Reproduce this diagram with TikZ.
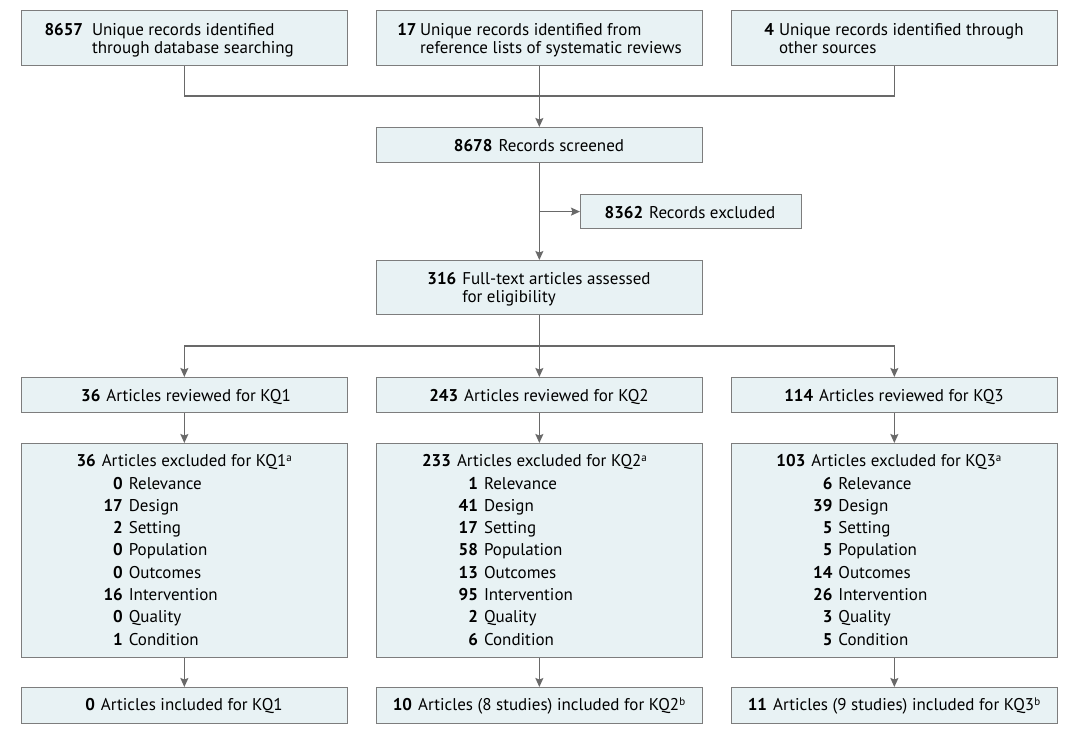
\documentclass[tikz,border=0pt]{standalone}
\usepackage{fontspec}
\setmainfont{PT Sans}
\usetikzlibrary{arrows.meta}
\definecolor{boxfill}{RGB}{232,242,244}
\definecolor{boxline}{RGB}{125,125,125}
\definecolor{connc}{RGB}{105,105,105}
\newcommand{\nm}[1]{\llap{\textbf{#1}\hspace{6pt}}}
\newcommand{\supl}[1]{\raisebox{5.5pt}{\fontsize{11}{11}\selectfont #1}}
\newcommand{\hd}[3]{\begin{tabular}[t]{@{}l@{\hspace{#1}}l@{}}\textbf{#2} & #3\end{tabular}}
\begin{document}
\begin{tikzpicture}[x=1pt,y=-1pt,
  box/.style={draw=boxline, fill=boxfill, line width=1.2pt, inner sep=0pt, anchor=north west, minimum width=325.5pt},
  txt/.style={inner sep=0pt, font=\fontsize{17}{18.3}\selectfont, text=black},
  lst/.style={inner sep=0pt, font=\fontsize{17}{22.3}\selectfont, text=black},
  conn/.style={draw=connc, line width=1.3pt},
  arr/.style={conn, -{Stealth[length=9pt,width=8pt,inset=1.5pt]}}]
\useasboundingbox[fill=white] (0,0) rectangle (1072,736);

% boxes
\node[box, minimum height=55pt] (b1) at (21,10) {};
\node[box, minimum height=55pt] (b2) at (376,10) {};
\node[box, minimum height=55pt] (b3) at (731,10) {};
\node[box, minimum height=35pt] (b4) at (376,127) {};
\node[box, minimum height=34pt, minimum width=220.5pt] (b5) at (580,194) {};
\node[box, minimum height=54pt] (b6) at (376,260) {};
\node[box, minimum height=35pt] (r1) at (21,377) {};
\node[box, minimum height=35pt] (r2) at (376,377) {};
\node[box, minimum height=35pt] (r3) at (731,377) {};
\node[box, minimum height=213.5pt] (x1) at (21,443) {};
\node[box, minimum height=213.5pt] (x2) at (376,443) {};
\node[box, minimum height=213.5pt] (x3) at (731,443) {};
\node[box, minimum height=35.5pt] (f1) at (21,687) {};
\node[box, minimum height=35.5pt] (f2) at (376,687) {};
\node[box, minimum height=35.5pt] (f3) at (731,687) {};

% texts
\node[txt, anchor=base west] (t1) at (44.3,35) {\hd{9pt}{8657}{Unique records identified\\ & through database searching}};
\node[txt, anchor=base] (t2) at (539.5,35) {\hd{3.5pt}{17}{Unique records identified from\\ & reference lists of systematic reviews}};
\node[txt, anchor=base] (t3) at (894,35) {\hd{5pt}{4}{Unique records identified through\\ & other sources}};
\node[txt, anchor=base] (t4) at (539,151.7) {\textbf{8678}\hspace{6pt}Records screened};
\node[txt, anchor=base] (t5) at (690,218.3) {\textbf{8362}\hspace{6pt}Records excluded};
\node[txt, anchor=base] (t6) at (539,284) {\hd{6pt}{316}{Full-text articles assessed\\ & for eligibility}};
\node[txt, anchor=base] (tr1) at (186,401.8) {\textbf{36}\hspace{6pt}Articles reviewed for KQ1};
\node[txt, anchor=base] (tr2) at (539,401.8) {\textbf{243}\hspace{6pt}Articles reviewed for KQ2};
\node[txt, anchor=base] (tr3) at (894,401.8) {\textbf{114}\hspace{6pt}Articles reviewed for KQ3};

\node[lst, anchor=base west] (l1) at (128.6,466.7) {\begin{tabular}[t]{@{}l@{}}
\hspace*{-27pt}\nm{36}Articles excluded for KQ1\supl{a}\\
\nm{0}Relevance\\ \nm{17}Design\\ \nm{2}Setting\\ \nm{0}Population\\
\nm{0}Outcomes\\ \nm{16}Intervention\\ \nm{0}Quality\\ \nm{1}Condition
\end{tabular}};
\node[lst, anchor=base west] (l2) at (483.8,466.7) {\begin{tabular}[t]{@{}l@{}}
\hspace*{-27pt}\nm{233}Articles excluded for KQ2\supl{a}\\
\nm{1}Relevance\\ \nm{41}Design\\ \nm{17}Setting\\ \nm{58}Population\\
\nm{13}Outcomes\\ \nm{95}Intervention\\ \nm{2}Quality\\ \nm{6}Condition
\end{tabular}};
\node[lst, anchor=base west] (l3) at (838.2,466.7) {\begin{tabular}[t]{@{}l@{}}
\hspace*{-27pt}\nm{103}Articles excluded for KQ3\supl{a}\\
\nm{6}Relevance\\ \nm{39}Design\\ \nm{5}Setting\\ \nm{5}Population\\
\nm{14}Outcomes\\ \nm{26}Intervention\\ \nm{3}Quality\\ \nm{5}Condition
\end{tabular}};

\node[txt, anchor=base] (tf1) at (184,710.5) {\textbf{0}\hspace{6pt}Articles included for KQ1};
\node[txt, anchor=base] (tf2) at (539,710.5) {\textbf{10}\hspace{6pt}Articles (8 studies) included for KQ2\supl{b}};
\node[txt, anchor=base] (tf3) at (894,710.5) {\textbf{11}\hspace{6pt}Articles (9 studies) included for KQ3\supl{b}};

% connectors
\coordinate (j1) at (b2.south |- 0,96);
\coordinate (j2) at (b6.south |- 0,346);
\draw[conn] (b1.south) |- (j1) -| (b3.south);
\draw[arr] (b2.south) -- (b4.north);
\draw[arr] (b4.south) -- (b6.north);
\draw[arr] (b4.south |- b5.west) -- (b5.west);
\draw[conn] (b6.south) -- (j2);
\draw[arr] (j2) -| (r1.north);
\draw[arr] (j2) -- (r2.north);
\draw[arr] (j2) -| (r3.north);
\draw[arr] (r1.south) -- (x1.north);
\draw[arr] (r2.south) -- (x2.north);
\draw[arr] (r3.south) -- (x3.north);
\draw[arr] (x1.south) -- (f1.north);
\draw[arr] (x2.south) -- (f2.north);
\draw[arr] (x3.south) -- (f3.north);
\end{tikzpicture}
\end{document}
